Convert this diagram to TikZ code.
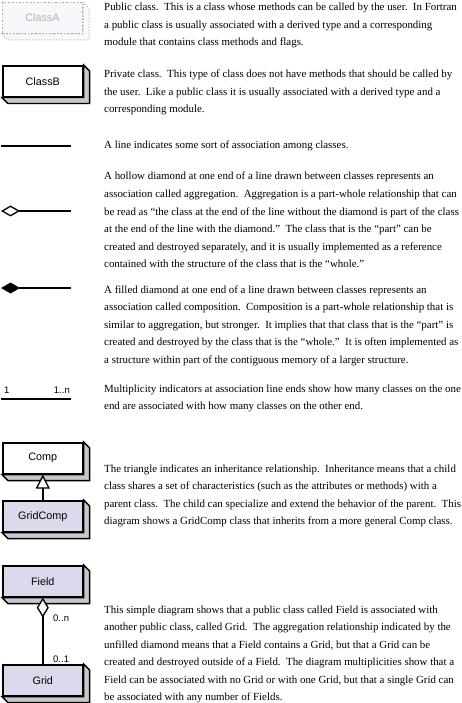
\documentclass[tikz,border=0pt]{standalone}
\usepackage{fontspec}
\setmainfont{Liberation Serif}
\setsansfont{Liberation Sans}
\usetikzlibrary{arrows.meta,calc}
\definecolor{lav}{RGB}{221,216,236}
\definecolor{shadegray}{RGB}{200,200,200}
\newcommand{\extrude}[2]{%
  \draw[line width=1.3pt,fill=#2,line join=miter]
    (#1.north east) -- ++(6,6) -- ($(#1.south east)+(6,6)$) -- ($(#1.south west)+(6,6)$)
    -- (#1.south west) -- (#1.south east) -- cycle;}
\begin{document}
\begin{tikzpicture}[x=1pt,y=-1pt,
  classbox/.style={draw=black,line width=1.6pt,minimum width=80pt,minimum height=31pt,
    inner sep=0pt,anchor=north west,font=\sffamily\fontsize{10.8}{12}\selectfont},
  pubbox/.style={classbox,fill=lav},
  privbox/.style={classbox,fill=white},
  ghostbox/.style={classbox,draw=gray!70,dotted,line width=1pt,fill=lav!20,text=gray!60},
  conn/.style={line width=1.5pt,draw=black},
  mult/.style={font=\sffamily\fontsize{9.5}{11}\selectfont,inner sep=0pt},
  txt/.style={anchor=base west,inner sep=0pt,font=\fontsize{10.9}{17.5}\selectfont}]
\useasboundingbox (0,0) rectangle (461,703);

% ---- class boxes ----
\node[ghostbox] (ca) at (2,2) {ClassA};
\draw[dotted,line width=1pt,draw=gray!70,fill=lav!15]
  (ca.north east) -- ++(6,6) -- ($(ca.south east)+(6,6)$) -- ($(ca.south west)+(6,6)$)
  -- (ca.south west) -- (ca.south east) -- cycle;

\node[privbox] (cb) at (2,65) {ClassB};
\extrude{cb}{shadegray}

\node[privbox] (comp) at (2,442) {Comp};
\extrude{comp}{shadegray}
\node[pubbox] (gc) at (2,500) {GridComp};
\extrude{gc}{shadegray}

\node[pubbox] (field) at (2,565) {Field};
\extrude{field}{shadegray}
\node[pubbox] (grid) at (2,664) {Grid};
\extrude{grid}{shadegray}

% ---- connector samples ----
\coordinate (la) at (1,146);
\coordinate (lb) at (71,146);
\draw[conn] (la) -- (lb);

\coordinate (ha) at (1,211);
\coordinate (hb) at (71,211);
\draw[conn,{Diamond[fill=white,length=19pt,width=11pt,line width=1.3pt]}-] (ha) -- (hb);

\coordinate (fa) at (1,288);
\coordinate (fb) at (71,288);
\draw[conn,{Diamond[fill=black,length=19pt,width=11pt]}-] (fa) -- (fb);

\coordinate (ma) at (1,399);
\coordinate (mb) at (71,399);
\draw[conn] (ma) -- (mb);
\node[mult,anchor=base west] (m1) at (4,393) {1};
\node[mult,anchor=base east] (m2) at (70,393) {1..n};

\draw[conn,-{Triangle[fill=white,length=14pt,width=14pt,line width=1.3pt]}] (gc.north) -- (comp.south);

\draw[conn,{Diamond[fill=white,length=20pt,width=12pt,line width=1.3pt]}-] (field.south) -- (grid.north);
\node[mult,anchor=base west] (m3) at (53,621) {0..n};
\node[mult,anchor=base west] (m4) at (53,662) {0..1};

% ---- texts ----
\foreach \t [count=\i] in {
 {Public class.\ \ This is a class whose methods can be called by the user.\ \ In Fortran},
 {a public class is usually associated with a derived type and a corresponding},
 {module that contains class methods and flags.}}
 \node[txt] (ta\i) at (104,{11+17.5*(\i-1)}) {\t};

\foreach \t [count=\i] in {
 {Private class.\ \ This type of class does not have methods that should be called by},
 {the user.\ \ Like a public class it is usually associated with a derived type and a},
 {corresponding module.}}
 \node[txt] (tb\i) at (104,{78+17.5*(\i-1)}) {\t};

\node[txt] (tc1) at (104,149) {A line indicates some sort of association among classes.};

\foreach \t [count=\i] in {
 {A hollow diamond at one end of a line drawn between classes represents an},
 {association called aggregation.\ \ Aggregation is a part-whole relationship that can},
 {be read as “the class at the end of the line without the diamond is part of the class},
 {at the end of the line with the diamond.”\ \ The class that is the “part” can be},
 {created and destroyed separately, and it is usually implemented as a reference},
 {contained with the structure of the class that is the “whole.”}}
 \node[txt] (td\i) at (104,{180+17.5*(\i-1)}) {\t};

\foreach \t [count=\i] in {
 {A filled diamond at one end of a line drawn between classes represents an},
 {association called composition.\ \ Composition is a part-whole relationship that is},
 {similar to aggregation, but stronger.\ \ It implies that that class that is the “part” is},
 {created and destroyed by the class that is the “whole.”\ \ It is often implemented as},
 {a structure within part of the contiguous memory of a larger structure.}}
 \node[txt] (te\i) at (104,{293+17.5*(\i-1)}) {\t};

\foreach \t [count=\i] in {
 {Multiplicity indicators at association line ends show how many classes on the one},
 {end are associated with how many classes on the other end.}}
 \node[txt] (tf\i) at (104,{392+17.5*(\i-1)}) {\t};

\foreach \t [count=\i] in {
 {The triangle indicates an inheritance relationship.\ \ Inheritance means that a child},
 {class shares a set of characteristics (such as the attributes or methods) with a},
 {parent class.\ \ The child can specialize and extend the behavior of the parent.\ \ This},
 {diagram shows a GridComp class that inherits from a more general Comp class.}}
 \node[txt] (tg\i) at (104,{472+17.5*(\i-1)}) {\t};

\foreach \t [count=\i] in {
 {This simple diagram shows that a public class called Field is associated with},
 {another public class, called Grid.\ \ The aggregation relationship indicated by the},
 {unfilled diamond means that a Field contains a Grid, but that a Grid can be},
 {created and destroyed outside of a Field.\ \ The diagram multiplicities show that a},
 {Field can be associated with no Grid or with one Grid, but that a single Grid can},
 {be associated with any number of Fields.}}
 \node[txt] (th\i) at (104,{613+17.5*(\i-1)}) {\t};
\end{tikzpicture}
\end{document}
